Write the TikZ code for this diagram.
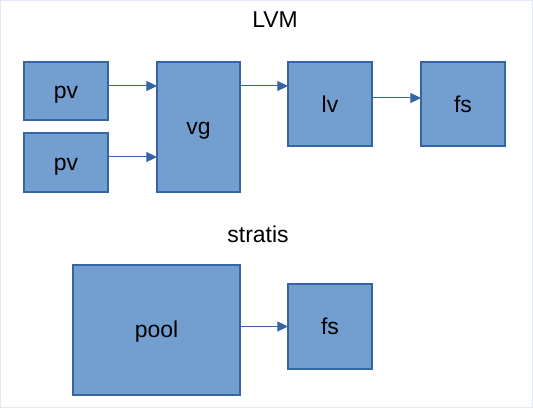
\documentclass[tikz,border=0pt]{standalone}
\usepackage{fontspec}
\setmainfont{Liberation Sans}
\usetikzlibrary{positioning,arrows.meta}

\definecolor{boxfill}{HTML}{729FCF}
\definecolor{boxline}{HTML}{3465A4}
\definecolor{framecol}{HTML}{E6E6FA}

\begin{document}
\begin{tikzpicture}[
  x=1pt, y=1pt,
  box/.style={draw=boxline, fill=boxfill, line width=0.8pt, inner sep=0pt,
              outer sep=0pt, font=\fontsize{17.2}{20}\selectfont,
              text height=12pt, text depth=0pt, minimum width=63pt},
  title/.style={font=\fontsize{17.2}{20}\selectfont},
  arr/.style={-{Triangle[length=8pt, width=7.5pt]}, draw=boxline, fill=boxline,
              line width=0.75pt}
]
\draw[framecol, line width=0.75pt] (0.375,0.375) rectangle (399.375,305.625);
\useasboundingbox (0,0) rectangle (399.75,306);

\node[title] (lvmtitle) at (206.25,291.2) {LVM};
\node[box, minimum height=43.5pt, anchor=north west] (pv1) at (18,259.5) {pv};
\node[box, minimum height=44.25pt, below=9.75pt of pv1] (pv2) {pv};
\node[box, minimum width=62.25pt, minimum height=97.5pt,
      right=36.75pt of pv1.north east, anchor=north west] (vg) {vg};
\node[box, minimum height=63pt, right=36pt of vg.north east, anchor=north west] (lv) {lv};
\node[box, minimum height=63pt, right=36.75pt of lv.north east, anchor=north west] (fs1) {fs};

\node[title] (stratistitle) at (193.5,130) {stratis};
\node[box, minimum width=125.25pt, minimum height=97.5pt,
      below=54.75pt of vg.south east, anchor=north east] (pool) {pool};
\node[box, minimum height=63.75pt, anchor=north west] (fs2) at (lv.west |- 0,93) {fs};

\draw[arr] ([yshift=-18pt]pv1.north east) -- ([yshift=-18pt]pv1.north east -| vg.west);
\draw[arr] ([yshift=-18pt]pv2.north east) -- ([yshift=-18pt]pv2.north east -| vg.west);
\draw[arr] ([yshift=-18pt]vg.north east) -- ([yshift=-18pt]lv.north west);
\draw[arr] ([yshift=-27pt]lv.north east) -- ([yshift=-27pt]fs1.north west);
\draw[arr] (pool.east |- fs2.west) -- (fs2.west);
\end{tikzpicture}
\end{document}
